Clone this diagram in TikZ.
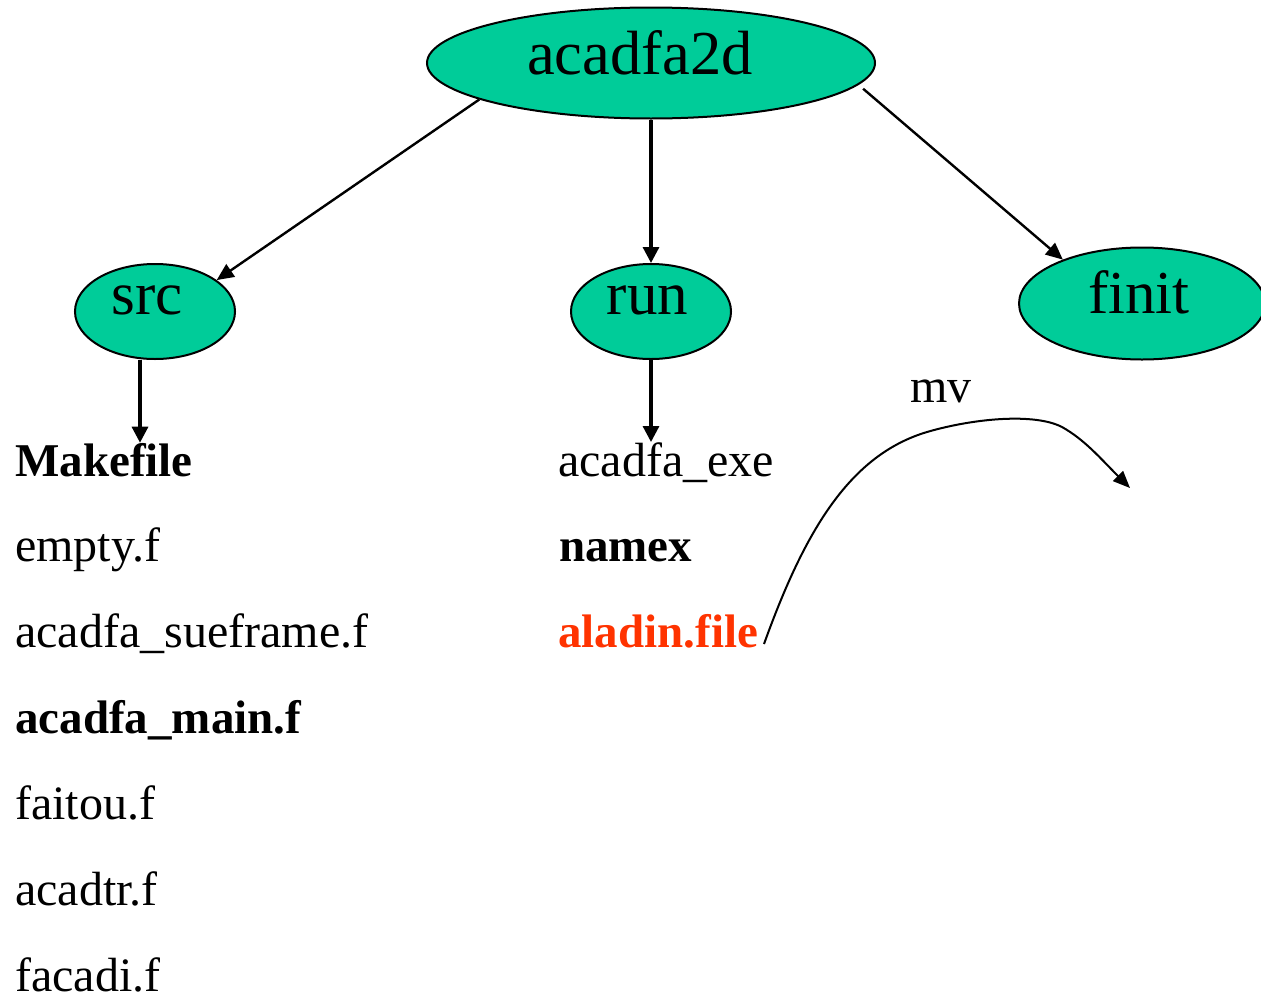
\documentclass[tikz,border=0pt]{standalone}
\usepackage{fontspec}
\setmainfont{Liberation Serif}
\usetikzlibrary{arrows.meta,shapes.geometric}

\definecolor{dirgreen}{RGB}{0,204,153}
\definecolor{hotred}{RGB}{255,51,0}

\begin{document}
\begin{tikzpicture}[x=1pt,y=1pt,
  dirnode/.style={ellipse, draw=black, fill=dirgreen, line width=2pt, inner sep=0pt},
  dirlabel/.style={inner sep=0pt, anchor=base, font=\fontsize{61}{61}\selectfont},
  rootlabel/.style={dirlabel, font=\fontsize{62.5}{62.5}\selectfont},
  fileentry/.style={inner sep=0pt, anchor=base west, font=\fontsize{48}{48}\selectfont},
  boldentry/.style={fileentry, font=\fontsize{47}{47}\selectfont\bfseries},
  link/.style={line width=2.4pt, -{Triangle[length=17pt,width=15pt]}},
  downlink/.style={line width=3.2pt, -{Triangle[length=16pt,width=16pt]}},
  movelink/.style={line width=2pt, -{Triangle[length=17pt,width=14pt]}}
]
\useasboundingbox (0,0) rectangle (1261,-996);

% directory ellipses
\node[dirnode, minimum width=448pt, minimum height=111pt] (root)  at (651,-63)    {};
\node[dirnode, minimum width=160pt, minimum height=95pt]  (src)   at (155,-311.5) {};
\node[dirnode, minimum width=160pt, minimum height=95pt]  (run)   at (651,-311.5) {};
\node[dirnode, minimum width=246pt, minimum height=112pt] (finit) at (1142,-303.5) {};

% directory names
\node[rootlabel] (rootname)  at ([xshift=-11pt,yshift=-11.5pt]root.center)  {acadfa2d};
\node[dirlabel]  (srcname)   at ([xshift=-7.5pt,yshift=-2.5pt]src.center)   {src};
\node[dirlabel]  (runname)   at ([xshift=-3.5pt,yshift=-3pt]run.center)     {run};
\node[dirlabel]  (finitname) at ([xshift=-3pt,yshift=-10pt]finit.center)    {finit};

% tree edges
\draw[link] (root.192.2) -- (src.27);
\draw[downlink] (root.south) -- (run.north);
\draw[link, shorten <=6pt] (root.-6.4) -- (finit.151.4);

% contents of src
\node[boldentry] (make)   at (15,-476)   {Makefile};
\node[fileentry] (empty)  at (15,-561.8) {empty.f};
\node[fileentry] (suef)   at (15,-647.7) {acadfa\_sueframe.f};
\node[boldentry] (mainf)  at (15,-733.5) {acadfa\_main.f};
\node[fileentry] (faitou) at (15,-819.3) {faitou.f};
\node[fileentry] (acadtr) at (15,-905.2) {acadtr.f};
\node[fileentry] (facadi) at (15,-991)   {facadi.f};

% contents of run
\node[fileentry] (exe)    at (558,-476)   {acadfa\_exe};
\node[boldentry] (namex)  at (559,-561.8) {namex};
\node[boldentry, text=hotred] (aladin) at (558,-647.7) {aladin.file};

% src and run point at their listings
\coordinate (srcfoot) at ([xshift=-15pt]src.south);
\draw[downlink] (srcfoot) -- (srcfoot |- make.north);
\draw[downlink] (run.south) -- (run.south |- exe.north);

% aladin.file is moved over to finit
\node[fileentry] (mv) at (910,-402) {mv};
\coordinate (mvfrom) at (764,-644);
\coordinate (mvto)   at (1130,-488);
\draw[movelink] (mvfrom) .. controls (805,-530) and (850,-455) .. (927,-432)
  .. controls (975,-418) and (1035,-413) .. (1062,-427)
  .. controls (1085,-440) and (1100,-458) .. (mvto);
\end{tikzpicture}
\end{document}
